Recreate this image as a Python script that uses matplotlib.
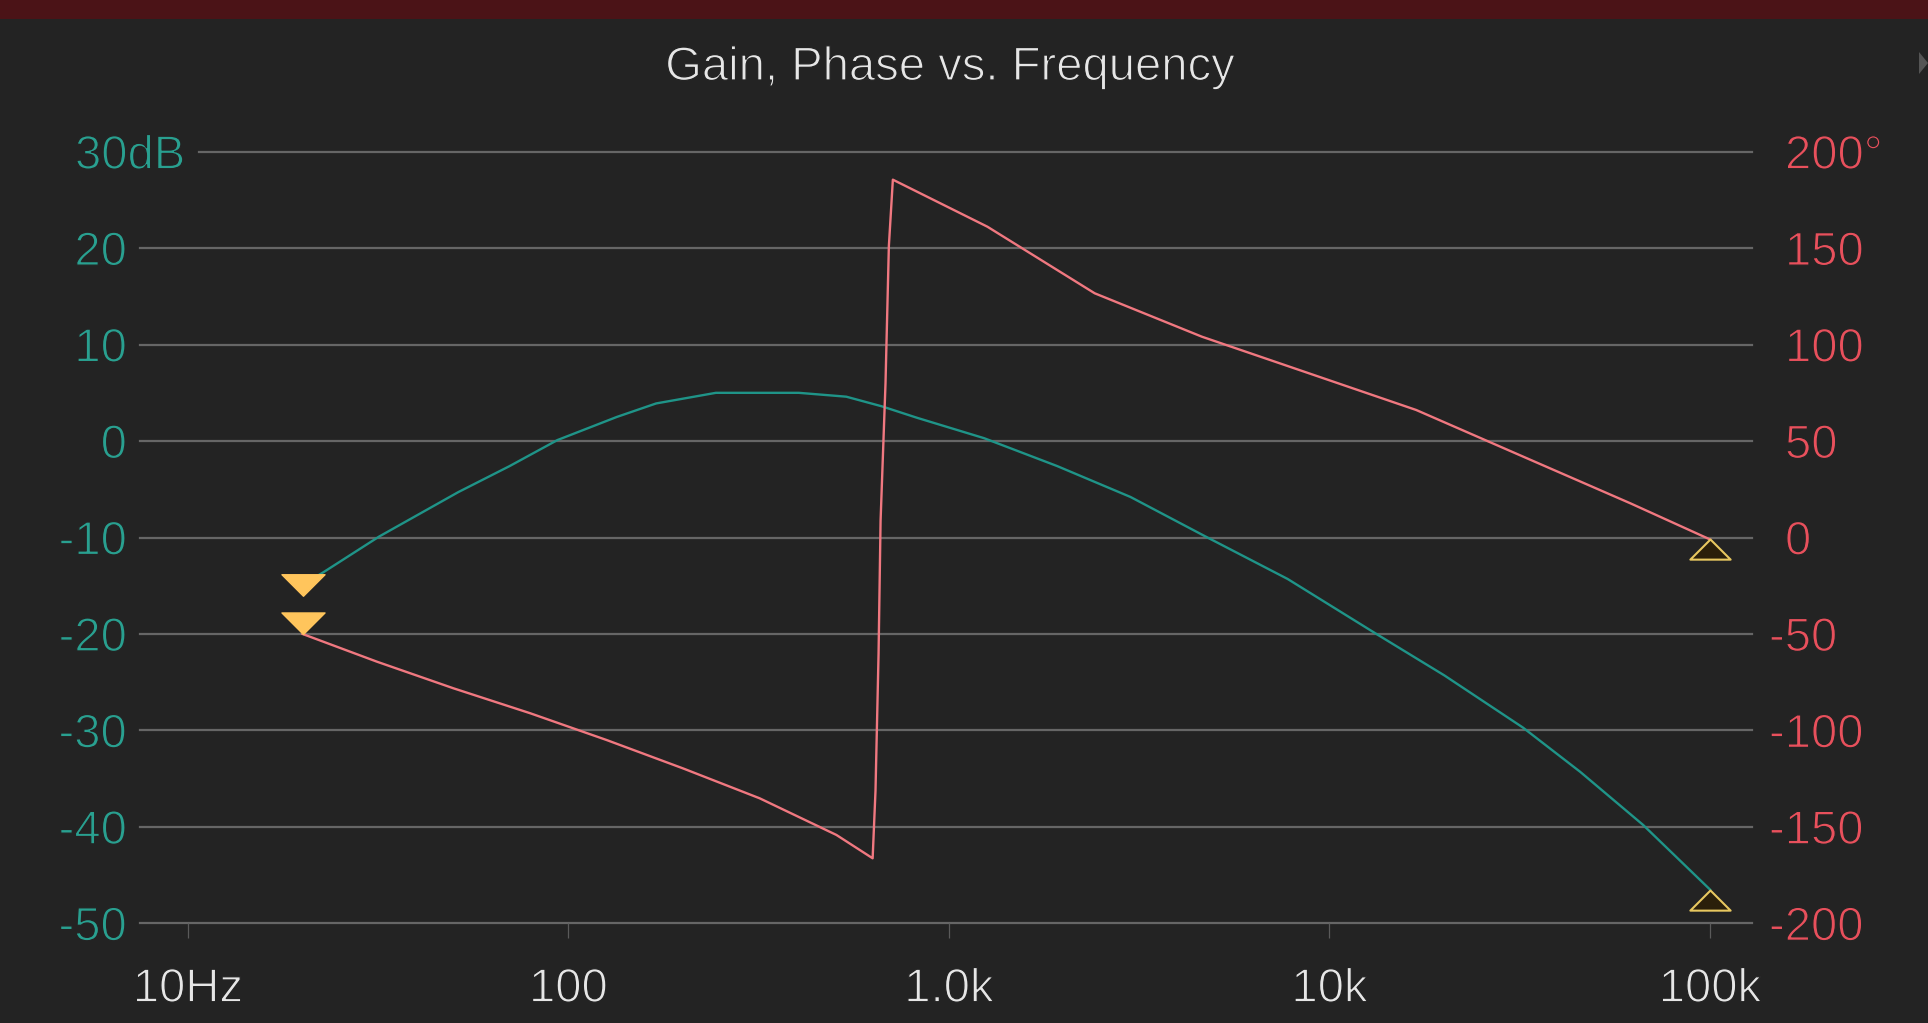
import matplotlib
matplotlib.use('Agg')
import matplotlib.pyplot as plt
import matplotlib.patheffects as pe
from matplotlib.path import Path
from matplotlib.patches import Rectangle, Polygon
from matplotlib.ticker import NullLocator
from matplotlib.transforms import blended_transform_factory, ScaledTranslation

plt.rcParams['font.family'] = ['Liberation Sans', 'DejaVu Sans']

# ---- data ----
FREQ_GAIN = [20, 22.7, 31.8, 51.3, 70, 93.5, 134, 170, 244, 403, 537, 666, 826,
             1236, 1926, 3000, 4672, 7762, 13280, 20040, 32220, 45600, 66700, 100000]
GAIN_DB = [-14.9, -13.6, -9.9, -5.3, -2.6, 0.1, 2.5, 3.9, 5.0, 5.0, 4.6, 3.6, 2.4,
           0.3, -2.6, -5.8, -9.8, -14.3, -20.0, -24.3, -29.7, -34.3, -39.8, -46.5]

FREQ_PHASE = [20, 31.4, 49.9, 79.3, 126, 200, 318, 506, 630, 641, 653, 661, 681,
              695, 712, 1262, 2415, 4620, 8836, 16900, 32300, 61800, 100000]
PHASE_DEG = [-50, -64.4, -78.2, -91.1, -105.0, -119.7, -135.2, -154.2, -166.3,
             -131.3, -60.1, 8.7, 79.9, 151.1, 185.5, 161.1, 126.6, 104.1, 85.1,
             66.1, 41.9, 17.7, -1.0]

FREQ_TICKS = [10, 100, 1000, 10000, 100000]
FREQ_LABELS = ['10Hz', '100', '1.0k', '10k', '100k']
GAIN_TICKS = [30, 20, 10, 0, -10, -20, -30, -40, -50]
GAIN_LABELS = ['30dB', '20', '10', '0', '-10', '-20', '-30', '-40', '-50']
PHASE_TICKS = [200, 150, 100, 50, 0, -50, -100, -150, -200]
PHASE_LABELS = ['200°', '150', '100', '50', '0', '-50', '-100', '-150', '-200']

# ---- style ----
W, H = 1928, 1023
BG = '#232323'
BAR = '#4b1317'
GRID = '#666666'
TEAL_TXT = '#29a090'
TEAL_LINE = '#1f9488'
RED_TXT = '#e8505c'
RED_LINE = '#f07880'
MK_FILL = '#ffc55c'
MK_EDGE = '#e8c860'
TXT = '#e6e6e6'
FS = 34
THIN = [pe.Stroke(linewidth=0.9, foreground=BG)]


def fx(px):
    return px / W


def fy(py):
    return 1 - py / H


fig = plt.figure(figsize=(W / 100, H / 100), dpi=100, facecolor=BG)
top, bot = 151.7, 923.3
ax = fig.add_axes([fx(140), fy(bot), fx(1751.7) - fx(140), (bot - top) / H])
ax.set_facecolor(BG)
ax.set_xscale('log')
ax.set_xlim(7.48, 128700)
ax.set_ylim(-50, 30)
ax2 = ax.twinx()
ax2.set_ylim(-200, 200)
ax2.patch.set_visible(False)
for a in (ax, ax2):
    for s in a.spines.values():
        s.set_visible(False)
    a.set_yticks([])

ax.set_xticks(FREQ_TICKS)
ax.set_xticklabels([])
ax.xaxis.set_minor_locator(NullLocator())
ax.tick_params(axis='x', length=11, width=0.9, color='#5a5a5a', direction='out')

# grid lines (top one starts after the "30dB" label)
for v in GAIN_TICKS:
    xmin = (199 - 140) / (1751.7 - 140) if v == 30 else 0
    ax.axhline(v, xmin=xmin, color=GRID, lw=1.6, clip_on=False, zorder=1)

# curves
ax.plot(FREQ_GAIN, GAIN_DB, color=TEAL_LINE, lw=1.7, zorder=3)
ax2.plot(FREQ_PHASE, PHASE_DEG, color=RED_LINE, lw=1.7, zorder=3)

# cursor markers
tri_down_c = Path([(-1, 0.5), (1, 0.5), (0, -0.5), (-1, 0.5)], closed=True)
tri_down_tip = Path([(-1, 1), (1, 1), (0, 0), (-1, 1)], closed=True)
tri_up_tip = Path([(0, 0), (1, -1), (-1, -1), (0, 0)], closed=True)
ax.plot(FREQ_GAIN[0], GAIN_DB[0], marker=tri_down_c, ms=31, color=MK_FILL,
        mec=MK_FILL, ls='none', zorder=6, clip_on=False)
ax2.plot(FREQ_PHASE[0], PHASE_DEG[0], marker=tri_down_tip, ms=31, color=MK_FILL,
         mec=MK_FILL, ls='none', zorder=6, clip_on=False)
ax.plot(FREQ_GAIN[-1], GAIN_DB[-1], marker=tri_up_tip, ms=29, mfc='#2a1f0a',
        mec=MK_EDGE, mew=1.5, ls='none', zorder=6, clip_on=False)
ax2.plot(FREQ_PHASE[-1], PHASE_DEG[-1], marker=tri_up_tip, ms=29, mfc='#2a1f0a',
         mec=MK_EDGE, mew=1.5, ls='none', zorder=6, clip_on=False)

# axis labels
down = ScaledTranslation(0, -0.17, fig.dpi_scale_trans)
trL = blended_transform_factory(fig.transFigure, ax.transData) + down
trR = blended_transform_factory(fig.transFigure, ax2.transData) + down
for v, lab in zip(GAIN_TICKS, GAIN_LABELS):
    if v == 30:
        ax.text(fx(75), v, lab, ha='left', va='baseline', transform=trL,
                color=TEAL_TXT, fontsize=FS, path_effects=THIN)
    else:
        ax.text(fx(127), v, lab, ha='right', va='baseline', transform=trL,
                color=TEAL_TXT, fontsize=FS, path_effects=THIN)
for v, lab in zip(PHASE_TICKS, PHASE_LABELS):
    x0 = fx(1769) if v < 0 else fx(1785)
    ax2.text(x0, v, lab, ha='left', va='baseline', transform=trR,
             color=RED_TXT, fontsize=FS, path_effects=THIN)

trB = blended_transform_factory(ax.transData, fig.transFigure)
for f, lab in zip(FREQ_TICKS, FREQ_LABELS):
    ax.text(f, fy(1001.7), lab, ha='center', va='baseline', transform=trB,
            color=TXT, fontsize=FS, path_effects=THIN)

fig.text(fx(950), fy(80), 'Gain, Phase vs. Frequency', ha='center', va='baseline',
         color=TXT, fontsize=FS, path_effects=THIN)

# window chrome: top bar and the clipped arrow at the right edge
fig.add_artist(Rectangle((0, fy(19)), 1, 19 / H, transform=fig.transFigure,
                         color=BAR, lw=0))
fig.add_artist(Polygon([(fx(1919), fy(52)), (fx(1928), fy(63)), (fx(1919), fy(74))],
                       closed=True, transform=fig.transFigure, color='#555555', lw=0))

fig.savefig('out.png', dpi=100, facecolor=BG)
